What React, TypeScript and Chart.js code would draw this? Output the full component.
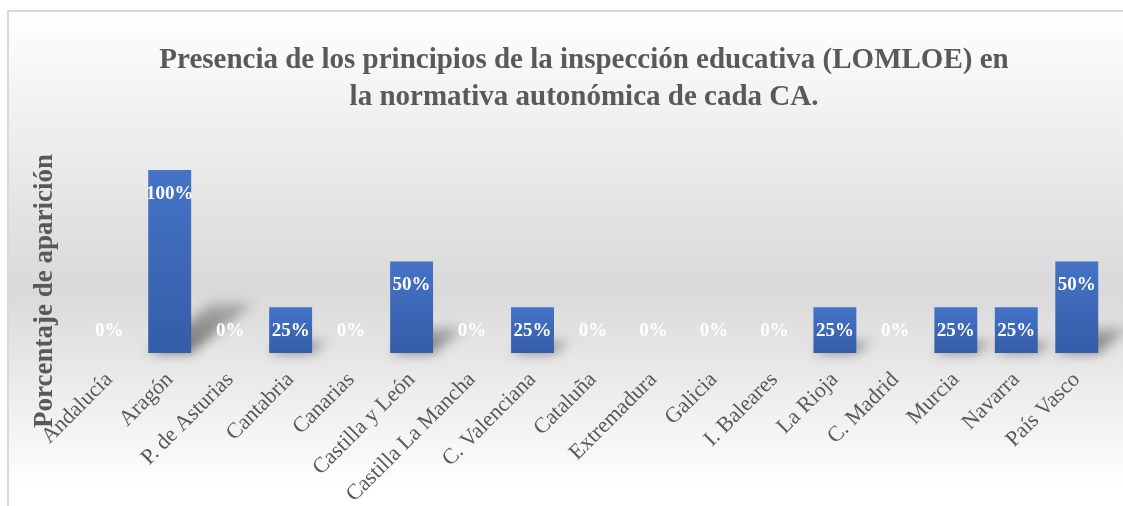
import React, { useEffect, useRef } from "react";
import { Chart, registerables } from "chart.js";

Chart.register(...registerables);

const categories = [
  "Andalucía",
  "Aragón",
  "P. de Asturias",
  "Cantabria",
  "Canarias",
  "Castilla y León",
  "Castilla La Mancha",
  "C. Valenciana",
  "Cataluña",
  "Extremadura",
  "Galicia",
  "I. Baleares",
  "La Rioja",
  "C. Madrid",
  "Murcia",
  "Navarra",
  "País Vasco",
];
const values = [0, 100, 0, 25, 0, 50, 0, 25, 0, 0, 0, 0, 25, 0, 25, 25, 50];
const titleLines = [
  "Presencia de los principios de la inspección educativa (LOMLOE) en",
  "la normativa autonómica de cada CA.",
];
const yAxisTitle = "Porcentaje de aparición";

const SERIF = "'Times New Roman', 'Liberation Serif', serif";
const TEXT_GRAY = "#595959";
const W = 1123;
const H = 506;

const backgroundPlugin = {
  id: "bgPlugin",
  beforeDraw(chart: any) {
    const ctx = chart.ctx as CanvasRenderingContext2D;
    ctx.save();
    ctx.fillStyle = "#ffffff";
    ctx.fillRect(0, 0, W, H);
    const g = ctx.createLinearGradient(0, 11, 0, 490);
    g.addColorStop(0, "#ffffff");
    g.addColorStop(0.58, "#d9d9d9");
    g.addColorStop(1, "#ffffff");
    ctx.fillStyle = g;
    ctx.fillRect(9, 12, W - 9, H - 12);
    ctx.fillStyle = "#d9d9d9";
    ctx.fillRect(7, 10, W - 7, 2);
    ctx.fillRect(7, 10, 2, H - 10);
    ctx.restore();
  },
};

const shadowPlugin = {
  id: "shadowPlugin",
  beforeDatasetsDraw(chart: any) {
    const ctx = chart.ctx as CanvasRenderingContext2D;
    const meta = chart.getDatasetMeta(0);
    ctx.save();
    ctx.filter = "blur(6px)";
    meta.data.forEach((bar: any) => {
      const p = bar.getProps(["x", "y", "base", "width"], true);
      const h = p.base - p.y;
      if (h <= 0) return;
      const left = p.x - p.width / 2;
      const right = p.x + p.width / 2;
      const dx = h * 0.34;
      const dy = h * 0.27;
      const g = ctx.createLinearGradient(0, p.base, 0, p.base - dy);
      g.addColorStop(0, "rgba(0,0,0,0.5)");
      g.addColorStop(1, "rgba(0,0,0,0.22)");
      ctx.fillStyle = g;
      ctx.beginPath();
      ctx.moveTo(left, p.base);
      ctx.lineTo(right, p.base);
      ctx.lineTo(right + dx, p.base - dy);
      ctx.lineTo(left + dx, p.base - dy);
      ctx.closePath();
      ctx.fill();
    });
    ctx.restore();
  },
};

const labelPlugin = {
  id: "labelPlugin",
  afterDatasetsDraw(chart: any) {
    const ctx = chart.ctx as CanvasRenderingContext2D;
    const meta = chart.getDatasetMeta(0);
    ctx.save();
    ctx.font = `bold 19px ${SERIF}`;
    ctx.fillStyle = "#ffffff";
    ctx.textAlign = "center";
    ctx.textBaseline = "middle";
    meta.data.forEach((bar: any, i: number) => {
      const p = bar.getProps(["x", "y", "base"], true);
      const v = values[i];
      const y = v > 0 ? p.y + 24 : p.base - 22;
      ctx.fillText(`${v}%`, p.x, y);
    });
    ctx.restore();
  },
};

const titlePlugin = {
  id: "titlePlugin",
  afterDraw(chart: any) {
    const ctx = chart.ctx as CanvasRenderingContext2D;
    ctx.save();
    ctx.fillStyle = TEXT_GRAY;
    ctx.font = `bold 29px ${SERIF}`;
    ctx.textAlign = "center";
    ctx.textBaseline = "alphabetic";
    ctx.fillText(titleLines[0], 584, 68);
    ctx.fillText(titleLines[1], 584, 105);
    ctx.font = `bold 27px ${SERIF}`;
    ctx.translate(52, 291);
    ctx.rotate(-Math.PI / 2);
    ctx.fillText(yAxisTitle, 0, 0);
    ctx.restore();
  },
};

export default function App() {
  const canvasRef = useRef<HTMLCanvasElement | null>(null);

  useEffect(() => {
    const canvas = canvasRef.current;
    if (!canvas) return;
    const chart = new Chart(canvas, {
      type: "bar",
      data: {
        labels: categories,
        datasets: [
          {
            data: values,
            borderWidth: 0,
            categoryPercentage: 1,
            barPercentage: 0.71,
            backgroundColor: (c: any) => {
              const ch = c.chart;
              const ys = ch.scales && ch.scales.y;
              if (!ys || c.type !== "data") return "#4472C4";
              const top = ys.getPixelForValue(c.parsed ? c.parsed.y : values[c.dataIndex]);
              const bottom = ys.getPixelForValue(0);
              if (!isFinite(top) || !isFinite(bottom) || bottom - top < 1) return "#4472C4";
              const g = ch.ctx.createLinearGradient(0, top, 0, bottom);
              g.addColorStop(0, "#4573C6");
              g.addColorStop(1, "#345DA8");
              return g;
            },
          },
        ],
      },
      options: {
        animation: false,
        responsive: false,
        events: [],
        layout: { padding: { left: 79, right: 16, top: 170, bottom: 0 } },
        plugins: {
          legend: { display: false },
          title: { display: false },
          tooltip: { enabled: false },
        },
        scales: {
          x: {
            grid: { display: false, drawTicks: false },
            border: { display: false },
            ticks: {
              color: TEXT_GRAY,
              font: { family: SERIF, size: 22 },
              minRotation: 45,
              maxRotation: 45,
              autoSkip: false,
              padding: 14,
            },
            afterFit: (scale: any) => {
              scale.height = 153;
            },
          },
          y: {
            display: false,
            min: 0,
            max: 100,
          },
        },
      },
      plugins: [backgroundPlugin, shadowPlugin, labelPlugin, titlePlugin],
    });
    return () => chart.destroy();
  }, []);

  return (
    <div style={{ position: "absolute", left: 0, top: 0, width: W, height: H }}>
      <canvas ref={canvasRef} width={W} height={H} style={{ display: "block" }} />
    </div>
  );
}
